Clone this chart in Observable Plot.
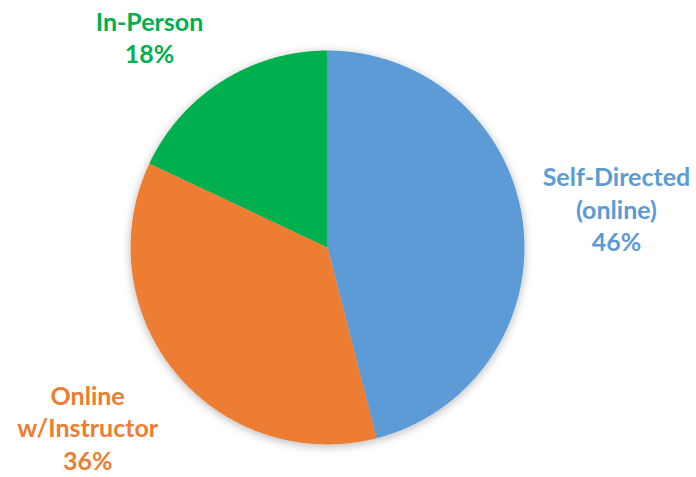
<!DOCTYPE html>
<html><head><meta charset="utf-8">
<script src="https://cdn.jsdelivr.net/npm/d3@7"></script>
<script src="https://cdn.jsdelivr.net/npm/@observablehq/plot@0.6"></script>
<style>body{margin:0;background:#fff}</style>
</head><body><div id="chart"></div>
<script>
// ---- data ----
const categories = ["Self-Directed\n(online)", "Online\nw/Instructor", "In-Person"];
const shares = [46, 36, 18];
const colors = ["#5B9BD5", "#ED7D31", "#00B050"];

// ---- layout (in pie-radius units, pie centered at 0,0) ----
const labelAt = [[1.467, 0.198], [-1.218, -0.912], [-0.904, 1.071]];
const viewBox = [[-1.660, -1.168], [1.873, 1.254]];

const arcs = d3.pie().sort(null).value(d => d)(shares);
function slicePolygon(a0, a1) {
  const pts = [[0, 0]];
  const n = Math.max(2, Math.ceil((a1 - a0) / 0.005));
  for (let i = 0; i <= n; i++) {
    const a = a0 + (a1 - a0) * i / n;
    pts.push([Math.sin(a), Math.cos(a)]);
  }
  pts.push([0, 0]);
  return pts;
}
const slices = {
  type: "FeatureCollection",
  features: arcs.map((a, i) => ({
    type: "Feature",
    properties: {name: categories[i], color: colors[i]},
    geometry: {type: "Polygon", coordinates: [slicePolygon(a.startAngle, a.endAngle)]}
  }))
};
const labels = categories.map((c, i) => ({
  text: c + "\n" + shares[i] + "%",
  color: colors[i],
  x: labelAt[i][0], y: labelAt[i][1]
}));

const chart = Plot.plot({
  width: 696, height: 477,
  margin: 0,
  projection: {type: "reflect-y", domain: {type: "MultiPoint", coordinates: viewBox}},
  marks: [
    Plot.geo(slices, {fill: d => d.properties.color, stroke: "none"}),
    Plot.text(labels, {x: "x", y: "y", text: "text", fill: "color", fontSize: 25, fontWeight: "bold",
      fontFamily: "Lato", lineHeight: 1.3, textAnchor: "middle", lineAnchor: "middle"})
  ],
  style: {background: "#fff", overflow: "visible"}
});
chart.setAttribute("font-family", "Lato");
// soft shadow around pie
const ns = "http://www.w3.org/2000/svg";
const defs = document.createElementNS(ns, "defs");
defs.innerHTML = '<filter id="sh" x="-20%" y="-20%" width="140%" height="140%"><feDropShadow dx="0" dy="2" stdDeviation="5" flood-color="#000" flood-opacity="0.28"/></filter>';
chart.insertBefore(defs, chart.firstChild);
const g = chart.querySelector('g[aria-label="geo"]');
if (g) g.setAttribute("filter", "url(#sh)");
document.getElementById("chart").appendChild(chart);
</script>
</body></html>
